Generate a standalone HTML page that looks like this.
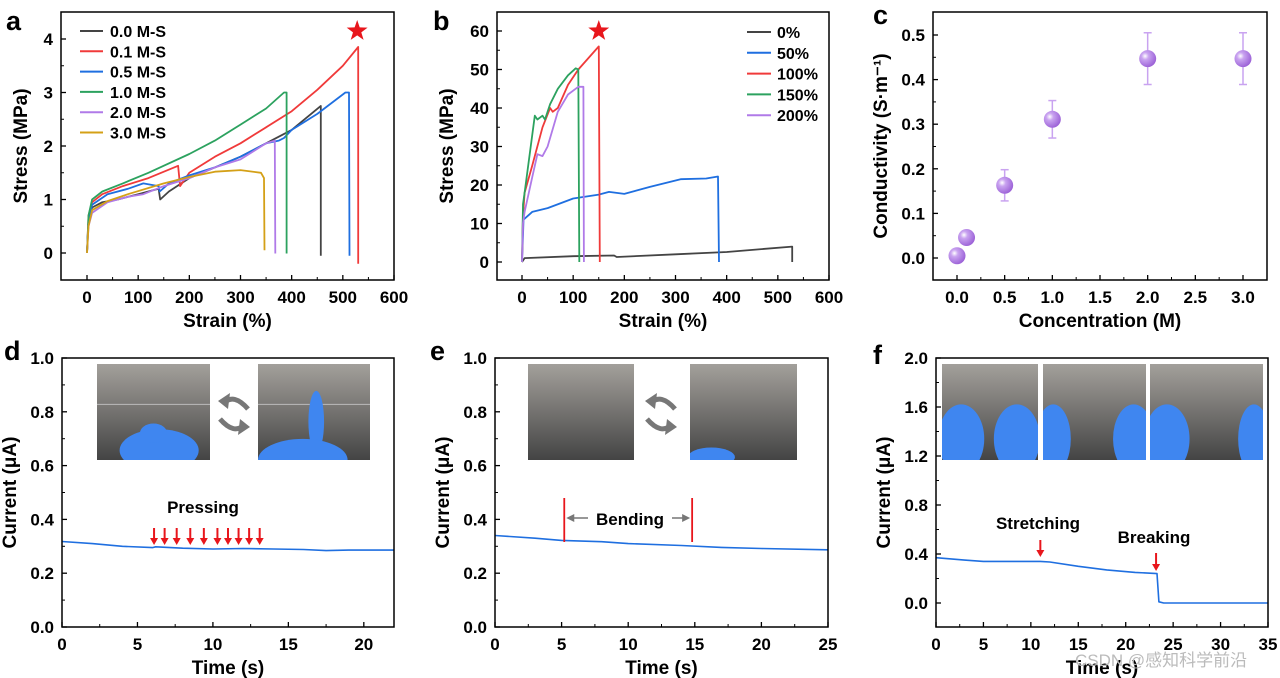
<!DOCTYPE html>
<html><head><meta charset="utf-8"><style>
body{margin:0;background:#fff}
svg{display:block;font-family:"Liberation Sans",Arial,sans-serif;font-weight:bold}
</style></head><body>
<svg id="fig" width="1280" height="678" viewBox="0 0 1280 678">
<defs>
<linearGradient id="bg" x1="0" y1="0" x2="0" y2="1"><stop offset="0" stop-color="#a3a09b"/><stop offset="1" stop-color="#444"/></linearGradient>
<radialGradient id="ball" cx="0.35" cy="0.35" r="0.7"><stop offset="0" stop-color="#fff"/><stop offset="0.3" stop-color="#c9a3f0"/><stop offset="1" stop-color="#9a5fd6"/></radialGradient>
</defs>
<g id="root"></g>
<text x="1075" y="666" font-size="17" font-weight="normal" fill="#bbb" font-family="Liberation Sans, Noto Sans CJK SC, sans-serif">CSDN @感知科学前沿</text>
</svg>
<script>
// ---------- DATA ----------
const aNames=["0.0 M-S","0.1 M-S","0.5 M-S","1.0 M-S","2.0 M-S","3.0 M-S"];
const aS0=[[0,0],[3,0.6],[10,0.85],[30,0.95],[60,1.0],[100,1.1],[140,1.2],[143,1.0],[160,1.15],[200,1.4],[250,1.6],[300,1.8],[350,2.05],[400,2.3],[457,2.75],[457,-0.05]];
const aS1=[[0,0],[3,0.7],[10,0.95],[30,1.1],[70,1.25],[120,1.4],[178,1.63],[182,1.25],[200,1.5],[250,1.8],[300,2.05],[350,2.35],[400,2.65],[450,3.05],[500,3.5],[530,3.85],[530,-0.2]];
const aS2=[[0,0],[3,0.6],[10,0.9],[40,1.1],[80,1.2],[110,1.3],[140,1.25],[142,1.15],[160,1.3],[200,1.45],[250,1.6],[300,1.8],[350,2.05],[375,2.1],[385,2.15],[400,2.3],[450,2.6],[505,3.0],[512,3.0],[513,-0.05]];
const aS3=[[0,0],[3,0.7],[10,1.0],[30,1.15],[70,1.3],[120,1.5],[200,1.85],[250,2.1],[300,2.4],[350,2.7],[385,3.0],[390,3.0],[390,-0.01]];
const aS4=[[0,0],[3,0.5],[10,0.75],[40,0.95],[80,1.05],[110,1.1],[150,1.25],[200,1.4],[250,1.6],[300,1.75],[350,2.05],[367,2.1],[368,-0.01]];
const aS5=[[0,0],[3,0.5],[10,0.8],[40,0.97],[80,1.1],[150,1.3],[200,1.42],[250,1.52],[300,1.55],[340,1.5],[346,1.4],[347,0.05]];
const bNames=["0%","50%","100%","150%","200%"];
const bS0=[[0,0],[5,1],[100,1.5],[180,1.7],[185,1.3],[300,2],[400,2.6],[528,4],[528,0]];
const bS1=[[0,0],[2,7],[3,11],[20,13],[50,14],[100,16.5],[150,17.5],[170,18.2],[200,17.7],[250,19.5],[310,21.5],[360,21.7],[383,22.2],[385,0]];
const bS2=[[0,0],[2,12],[5,18],[20,25],[40,35],[55,40],[60,39],[70,40],[90,46],[110,50],[130,53],[150,56],[152,0]];
const bS3=[[0,0],[2,15],[5,18],[25,38],[30,37],[40,38],[45,37],[55,41],[70,45],[90,48.5],[105,50.3],[110,50],[112,0]];
const bS4=[[0,0],[2,10],[5,13],[20,22],[30,28],[40,27.5],[50,30],[70,39],[90,43.5],[110,45.5],[120,45.5],[121,0]];
const cX=[0,0.1,0.5,1,2,3];
const cY=[0.005,0.046,0.163,0.311,0.447,0.447];
const cErr=[0,0,0.035,0.042,0.058,0.058];
const dS=[[0,0.318],[2,0.31],[4,0.3],[6,0.295],[6.2,0.298],[8,0.293],[10,0.29],[12,0.292],[14,0.29],[16,0.288],[17.5,0.284],[19,0.286],[22,0.286]];
const dArrows=[6.1,6.8,7.6,8.5,9.4,10.3,11,11.7,12.4,13.1];
const eS=[[0,0.34],[3,0.33],[5,0.322],[8,0.317],[10,0.31],[14,0.303],[17,0.296],[20,0.292],[25,0.287]];
const fS=[[0,0.37],[3,0.35],[5,0.34],[11,0.34],[12,0.335],[15,0.3],[18,0.27],[21,0.25],[23.3,0.24],[23.5,0.01],[24,0],[35,0]];
const aTicksX=[0,100,200,300,400,500,600], aTicksY=[0,1,2,3,4];
const bTicksX=[0,100,200,300,400,500,600], bTicksY=[0,10,20,30,40,50,60];
const cTicksX=["0.0","0.5","1.0","1.5","2.0","2.5","3.0"], cTicksY=["0.0","0.1","0.2","0.3","0.4","0.5"];
const dTicksX=[0,5,10,15,20], dTicksY=["0.0","0.2","0.4","0.6","0.8","1.0"];
const eTicksX=[0,5,10,15,20,25];
const fTicksX=[0,5,10,15,20,25,30,35], fTicksY=["0.0","0.4","0.8","1.2","1.6","2.0"];

// ---------- DRAW ----------
const NS="http://www.w3.org/2000/svg", root=document.getElementById('root'), defs=document.querySelector('defs');
function mk(tag,at,parent,txt){const e=document.createElementNS(NS,tag);for(const k in at)e.setAttribute(k,at[k]);if(txt!==undefined)e.textContent=txt;(parent||root).appendChild(e);return e;}
function lin(d0,d1,r0,r1){return v=>r0+(v-d0)/(d1-d0)*(r1-r0);}
function panel(o){
  const g=mk('g',{});
  
  
  mk('text',{x:o.lx,y:o.ly,'font-size':27},g,o.letter);
  const ticks=mk('g',{},g);
  
  
  o.tx.forEach(t=>{const x=o.sx(+t);mk('line',{x1:x,x2:x,y1:o.B,y2:o.B-5,stroke:'#000','stroke-width':1.3},ticks);
    mk('text',{x:x,y:o.B+23,'font-size':17,'text-anchor':'middle'},ticks,t);});
  o.ty.forEach(t=>{const y=o.sy(+t);mk('line',{x1:o.L,x2:o.L+5,y1:y,y2:y,stroke:'#000','stroke-width':1.3},ticks);
    mk('text',{x:o.L-8,y:y+6,'font-size':17,'text-anchor':'end'},ticks,t);});
  for(let i=0;i<o.tx.length-1;i++){const x=o.sx((+o.tx[i]+ +o.tx[i+1])/2);mk('line',{x1:x,x2:x,y1:o.B,y2:o.B-3,stroke:'#000'},ticks);}
  for(let i=0;i<o.ty.length-1;i++){const y=o.sy((+o.ty[i]+ +o.ty[i+1])/2);mk('line',{x1:o.L,x2:o.L+3,y1:y,y2:y,stroke:'#000'},ticks);}
  const xt=mk('text',{x:(o.L+o.R)/2,y:o.B+47,'font-size':19,'text-anchor':'middle'},g,o.xt);
  
  const yx=o.L-(o.yoff||46), yy=(o.T+o.B)/2;
  const yt=mk('text',{x:yx,y:yy,'font-size':19,'text-anchor':'middle',transform:`rotate(-90 ${yx} ${yy})`},g,o.yt);
  
  return g;
}
function frame(g,o){mk('rect',{x:o.L,y:o.T,width:o.R-o.L,height:o.B-o.T,fill:'none',stroke:'#000','stroke-width':1.5},g);}
function line(g,pts,sx,sy,col,name,w){const p=mk('path',{d:pts.map((q,i)=>(i?'L':'M')+sx(q[0]).toFixed(1)+','+sy(q[1]).toFixed(1)).join(''),fill:'none',stroke:col,'stroke-width':w||1.8,'stroke-linejoin':'round'},g);
  return p;}
function star(g,cx,cy,r){let d='';for(let i=0;i<10;i++){const a=-Math.PI/2+i*Math.PI/5,rr=i%2?r*0.4:r;d+=(i?'L':'M')+(cx+rr*Math.cos(a)).toFixed(1)+','+(cy+rr*Math.sin(a)).toFixed(1);}
  const s=mk('path',{d:d+'Z',fill:'#e8161c'},g);}
function redArrow(g,x,y1,y2){mk('line',{x1:x,x2:x,y1:y1,y2:y2-5,stroke:'#e8161c','stroke-width':2},g);mk('path',{d:`M${x-4},${y2-7}L${x+4},${y2-7}L${x},${y2}Z`,fill:'#e8161c'},g);}
let clipN=0;
function photo(g,x,y,w,h,name,hands,wire){const id='cp'+(clipN++);const cp=mk('clipPath',{id:id},defs);mk('rect',{x:x,y:y,width:w,height:h},cp);
  const p=mk('g',{'clip-path':`url(#${id})`},g);
  mk('rect',{x:x,y:y,width:w,height:h,fill:'url(#bg)'},p);
  if(wire)mk('line',{x1:x,x2:x+w,y1:y+h*0.42,y2:y+h*0.42,stroke:'#bbb','stroke-width':1},p);
  hands.forEach(hd=>mk('ellipse',{cx:x+hd[0]*w,cy:y+hd[1]*h,rx:hd[2]*w,ry:hd[3]*h,fill:'#3f86f0'},p));}
function swapIcon(g,cx,cy){const s=mk('g',{},g);
  mk('path',{d:`M${cx+14},${cy-4}Q${cx},${cy-20} ${cx-10},${cy-10}`,fill:'none',stroke:'#777','stroke-width':5},s);
  mk('path',{d:`M${cx-16},${cy-12}L${cx-4},${cy-20}L${cx-6},${cy-4}Z`,fill:'#777'},s);
  mk('path',{d:`M${cx-14},${cy+6}Q${cx},${cy+22} ${cx+10},${cy+12}`,fill:'none',stroke:'#777','stroke-width':5},s);
  mk('path',{d:`M${cx+16},${cy+14}L${cx+4},${cy+22}L${cx+6},${cy+6}Z`,fill:'#777'},s);}

// Panel a
(function(){const o={letter:'a',lx:6,ly:30,L:61,R:394,T:12,B:280,xt:'Strain (%)',yt:'Stress (MPa)',tx:aTicksX,ty:aTicksY,yoff:34};
 o.sx=lin(0,600,87,394);o.sy=lin(0,4,253,39);const g=panel(o);
 const cols=['#444','#f03a3a','#1f6fe0','#2ca25f','#b07ae8','#d4a017'];const S=[aS0,aS1,aS2,aS3,aS4,aS5];
 S.forEach((s,i)=>line(g,s,o.sx,o.sy,cols[i],'series-'+aNames[i].replace(/[ .]/g,'')));
 aNames.forEach((n,i)=>{const y=31+i*20.3;const le=mk('g',{},g);
  mk('line',{x1:80,x2:103,y1:y,y2:y,stroke:cols[i],'stroke-width':2},le);mk('text',{x:110,y:y+6,'font-size':16},le,n);});
 star(g,o.sx(528),31,11);frame(g,o);})();
// Panel b
(function(){const o={letter:'b',lx:433,ly:30,L:497,R:829,T:12,B:280,xt:'Strain (%)',yt:'Stress (MPa)',tx:bTicksX,ty:bTicksY,yoff:44};
 o.sx=lin(0,600,522,829);o.sy=lin(0,60,262,31);const g=panel(o);
 const cols=['#444','#1f6fe0','#f03a3a','#2ca25f','#b07ae8'];const S=[bS0,bS1,bS2,bS3,bS4];
 S.forEach((s,i)=>line(g,s,o.sx,o.sy,cols[i],'series-'+bNames[i].replace('%','pct')));
 bNames.forEach((n,i)=>{const y=32+i*20.8;const le=mk('g',{},g);
  mk('line',{x1:747,x2:771,y1:y,y2:y,stroke:cols[i],'stroke-width':2},le);mk('text',{x:777,y:y+6,'font-size':16},le,n);});
 star(g,o.sx(150),31,11);frame(g,o);})();
// Panel c
(function(){const o={letter:'c',lx:873,ly:24,L:933,R:1267,T:12,B:280,xt:'Concentration (M)',yt:'Conductivity (S·m⁻¹)',tx:cTicksX,ty:cTicksY,yoff:46};
 o.sx=lin(0,3,957,1243);o.sy=lin(0,0.5,258,35);const g=panel(o);
 cX.forEach((x,i)=>{const pg=mk('g',{},g);
  const px=o.sx(x),y1=o.sy(cY[i]+cErr[i]),y2=o.sy(cY[i]-cErr[i]);
  if(cErr[i]>0){mk('line',{x1:px,x2:px,y1:y1,y2:y2,stroke:'#c9a3f0','stroke-width':1.5},pg);
   mk('line',{x1:px-4,x2:px+4,y1:y1,y2:y1,stroke:'#c9a3f0','stroke-width':1.5},pg);mk('line',{x1:px-4,x2:px+4,y1:y2,y2:y2,stroke:'#c9a3f0','stroke-width':1.5},pg);}
  mk('circle',{cx:px,cy:o.sy(cY[i]),r:8.5,fill:'url(#ball)'},pg);});
 frame(g,o);})();
// Panel d
(function(){const o={letter:'d',lx:4,ly:360,L:62,R:394,T:358,B:627,xt:'Time (s)',yt:'Current (μA)',tx:dTicksX,ty:dTicksY,yoff:46};
 o.sx=lin(0,22,62,394);o.sy=lin(0,1,627,358);const g=panel(o);
 photo(g,97,364,113,96,'inset-photo-relaxed',[[0.55,0.9,0.35,0.22],[0.5,0.72,0.12,0.1]],true);
 photo(g,258,364,112,96,'inset-photo-pressed',[[0.52,0.6,0.07,0.32],[0.4,1.0,0.4,0.22]],true);
 swapIcon(g,234,413);
 line(g,dS,o.sx,o.sy,'#1f6fe0','current-trace-d',1.6);
 dArrows.forEach(t=>redArrow(g,o.sx(t),528,545));
 mk('text',{x:203,y:513,'font-size':17,'text-anchor':'middle'},g,'Pressing');frame(g,o);})();
// Panel e
(function(){const o={letter:'e',lx:430,ly:360,L:495,R:828,T:358,B:627,xt:'Time (s)',yt:'Current (μA)',tx:eTicksX,ty:dTicksY,yoff:46};
 o.sx=lin(0,25,495,828);o.sy=lin(0,1,627,358);const g=panel(o);
 photo(g,528,364,106,96,'inset-photo-flat',[]);
 photo(g,690,364,107,96,'inset-photo-bent',[[0.2,0.97,0.22,0.1]]);
 swapIcon(g,661,413);
 line(g,eS,o.sx,o.sy,'#1f6fe0','current-trace-e',1.6);
 [5.2,14.8].forEach(t=>mk('line',{x1:o.sx(t),x2:o.sx(t),y1:498,y2:542,stroke:'#e8161c','stroke-width':1.8},g));
 mk('line',{x1:o.sx(5.2)+4,x2:o.sx(14.8)-4,y1:518,y2:518,stroke:'#777','stroke-width':1.5},g);
 mk('path',{d:`M${o.sx(5.2)+2},518l8,-4v8z M${o.sx(14.8)-2},518l-8,-4v8z`,fill:'#777'},g);
 mk('rect',{x:588,y:506,width:84,height:24,fill:'#fff'},g);
 mk('text',{x:630,y:525,'font-size':17,'text-anchor':'middle'},g,'Bending');frame(g,o);})();
// Panel f
(function(){const o={letter:'f',lx:873,ly:364,L:936,R:1268,T:358,B:627,xt:'Time (s)',yt:'Current (μA)',tx:fTicksX,ty:fTicksY,yoff:46};
 o.sx=lin(0,35,936,1268);o.sy=lin(0,2,603,358);const g=panel(o);
 photo(g,942,364,96,96,'inset-photo-start',[[0.2,0.78,0.24,0.36],[0.78,0.78,0.24,0.36]]);
 photo(g,1043,364,103,96,'inset-photo-stretched',[[0.1,0.78,0.17,0.36],[0.88,0.78,0.2,0.36]]);
 photo(g,1150,364,113,96,'inset-photo-broken',[[0.15,0.78,0.2,0.36],[0.92,0.78,0.14,0.36]]);
 line(g,fS,o.sx,o.sy,'#1f6fe0','current-trace-f',1.6);
 redArrow(g,o.sx(11),540,557);redArrow(g,o.sx(23.2),553,571);
 mk('text',{x:1038,y:529,'font-size':17,'text-anchor':'middle'},g,'Stretching');
 mk('text',{x:1154,y:543,'font-size':17,'text-anchor':'middle'},g,'Breaking');frame(g,o);})();
</script>
</body></html>
